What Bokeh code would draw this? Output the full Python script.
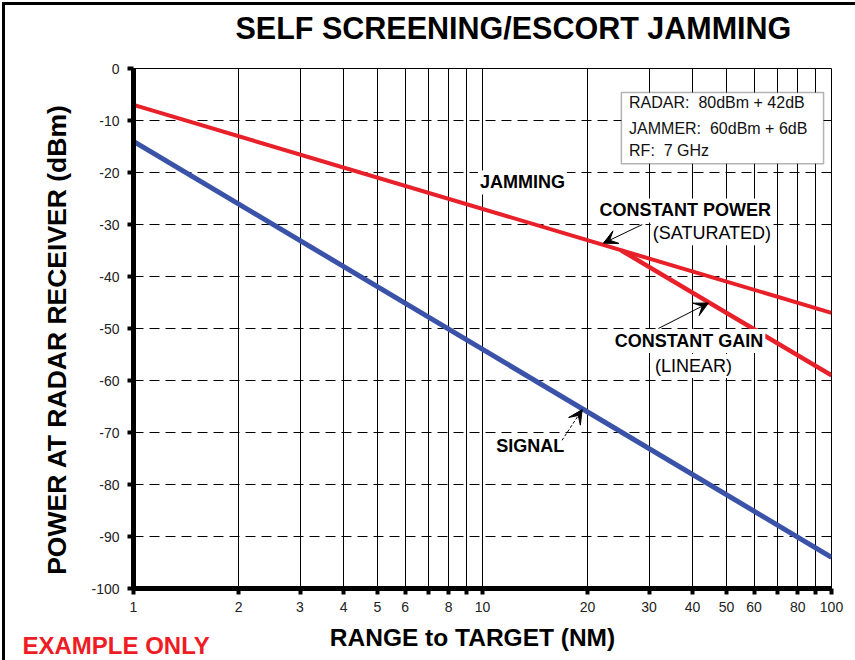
from bokeh.plotting import figure
from bokeh.layouts import column
from bokeh.models import (FixedTicker, Label, BoxAnnotation, Arrow, VeeHead,
                          BasicTickFormatter, Range1d)
from bokeh.embed import file_html
from bokeh.resources import INLINE

# Received power (dBm) against range to target (NM); each curve is a straight
# line on the log range axis, given by its end points.
jamming_range = [1, 100]
jamming_dbm = [-7, -47]

gain_range = [25, 100]
gain_dbm = [-35, -59]

signal_range = [1, 100]
signal_dbm = [-14, -94]

x_ticks = [1, 2, 3, 4, 5, 6, 7, 8, 9, 10, 20, 30, 40, 50, 60, 70, 80, 90, 100]
x_tick_labels = ["1", "2", "3", "4", "5", "6", "", "8", "", "10",
                 "20", "30", "40", "50", "60", "", "80", "", "100"]
y_ticks = [-100, -90, -80, -70, -60, -50, -40, -30, -20, -10, 0]
y_tick_labels = ["-100", "-90", "-80", "-70", "-60", "-50", "-40", "-30",
                 "-20", "-10", "0"]

NB = "\u00a0"
info_lines = [f"RADAR:{NB}{NB}80dBm{NB}+{NB}42dB",
              f"JAMMER:{NB}{NB}60dBm{NB}+{NB}6dB",
              f"RF:{NB}{NB}7{NB}GHz"]

FONT = "Liberation Sans"
RED = "#e8202a"
BLUE = "#3a53a8"
W = 850


def strip(height):
    """Axis-less band whose data units are pixels (y grows downward)."""
    f = figure(width=W, height=height, x_range=Range1d(0, W),
               y_range=Range1d(height, 0), x_axis_location=None,
               y_axis_location=None, output_backend="svg",
               toolbar_location=None, min_border=0, outline_line_color=None,
               background_fill_color="white", border_fill_color="white")
    f.xgrid.visible = False
    f.ygrid.visible = False
    f.frame_align = False
    return f


# ---- title band ----
head = strip(50)
head.add_layout(Label(x=230, y=22, text="SELF SCREENING/ESCORT JAMMING",
                      text_font=FONT, text_font_size="30.5px",
                      text_font_style="bold", text_color="black",
                      text_align="left", text_baseline="middle"))

# ---- main chart ----
p = figure(width=W, height=563, x_axis_type="log",
           x_range=(1, 100), y_range=(-100, 0),
           output_backend="svg", toolbar_location=None,
           min_border_left=128, min_border_right=24,
           min_border_top=13, min_border_bottom=30,
           background_fill_color="white", border_fill_color="white")
p.frame_align = False

p.outline_line_color = "black"
p.outline_line_width = 1

p.xaxis.ticker = FixedTicker(ticks=x_ticks, minor_ticks=[])
p.xaxis.formatter = BasicTickFormatter()
p.xaxis.major_label_overrides = {t: s for t, s in zip(x_ticks, x_tick_labels)}
p.yaxis.ticker = FixedTicker(ticks=y_ticks, minor_ticks=[])
p.yaxis.major_label_overrides = {t: s for t, s in zip(y_ticks, y_tick_labels)}

for ax in (p.xaxis[0], p.yaxis[0]):
    ax.axis_line_width = 5
    ax.axis_line_color = "black"
    ax.major_tick_line_width = 4
    ax.major_tick_line_color = "black"
    ax.major_tick_out = 6
    ax.major_tick_in = 0
    ax.minor_tick_line_color = None
    ax.major_label_text_font = FONT
    ax.major_label_text_font_size = "14px"
    ax.major_label_text_color = "#222222"
    ax.axis_label_text_font = FONT
    ax.axis_label_text_font_style = "bold"
    ax.axis_label_text_color = "black"

p.xaxis.major_label_standoff = 7
# trailing no-break spaces nudge the centred title down the axis
p.yaxis.axis_label = "POWER AT RADAR RECEIVER (dBm)" + NB * 3
p.yaxis.axis_label_text_font_size = "26.5px"
p.yaxis.major_label_standoff = 8
p.yaxis.axis_label_standoff = 16

# grid: solid verticals at every decade step, dashed horizontals every 10 dB
p.xgrid.ticker = FixedTicker(ticks=x_ticks, minor_ticks=[])
p.xgrid.grid_line_color = "black"
p.xgrid.grid_line_width = 1
p.ygrid.ticker = FixedTicker(ticks=y_ticks, minor_ticks=[])
p.ygrid.grid_line_color = "black"
p.ygrid.grid_line_width = 1
p.ygrid.grid_line_dash = "10 6"

# curves
p.line(jamming_range, jamming_dbm, line_color=RED, line_width=4)
p.line(gain_range, gain_dbm, line_color=RED, line_width=4.5)
p.line(signal_range, signal_dbm, line_color=BLUE, line_width=5)

# parameter box
p.add_layout(BoxAnnotation(left=25.0, right=94.9, top=-4.6, bottom=-18.3,
                           fill_color="white", fill_alpha=1,
                           line_color="black", line_width=1.5, level="annotation"))
for txt, yy in zip(info_lines, [-6.6, -11.5, -15.8]):
    p.add_layout(Label(x=26.3, y=yy, text=txt, text_font=FONT,
                       text_font_size="16px", text_color="#111111",
                       text_align="left", text_baseline="middle"))


def tag(x, y, text, bold=True, align="left"):
    p.add_layout(Label(x=x, y=y, text=text, text_font=FONT, text_font_size="18px",
                       text_font_style="bold" if bold else "normal",
                       text_color="black", text_align=align,
                       text_baseline="middle",
                       background_fill_color="white", background_fill_alpha=1,
                       padding=2))


tag(9.7, -21.9, "JAMMING")
tag(68.0, -27.3, "CONSTANT POWER", align="right")
tag(68.0, -31.7, "(SATURATED)", bold=False, align="right")
tag(23.6, -52.4, "CONSTANT GAIN")
tag(30.8, -57.2, "(LINEAR)", bold=False)
tag(10.8, -72.6, "SIGNAL")

# pointer arrows
arrows = [
    dict(x_start=28.7, y_start=-30.0, x_end=22.2, y_end=-33.6, dash="solid"),
    dict(x_start=31.9, y_start=-50.0, x_end=44.4, y_end=-45.1, dash="solid"),
    dict(x_start=16.9, y_start=-71.5, x_end=19.3, y_end=-65.6, dash="3 2"),
]
for a in arrows:
    p.add_layout(Arrow(end=VeeHead(size=14, fill_color="black", line_color="black",
                                   line_width=1),
                       x_start=a["x_start"], y_start=a["y_start"],
                       x_end=a["x_end"], y_end=a["y_end"],
                       line_color="black", line_width=1, line_dash=a["dash"]))

# ---- footer band: x-axis title and the red stamp ----
foot = strip(42)
foot.add_layout(Label(x=467, y=19, text="RANGE to TARGET (NM)", text_font=FONT,
                      text_font_size="24.5px", text_font_style="bold",
                      text_color="black", text_align="center",
                      text_baseline="middle"))
foot.add_layout(Label(x=17, y=27, text="EXAMPLE ONLY", text_font=FONT,
                      text_font_size="24px", text_font_style="bold",
                      text_color="#ee1c25", text_align="left",
                      text_baseline="middle"))

page = column(head, p, foot, spacing=0,
              styles={"margin-left": "2px", "margin-top": "2px",
                      "border-left": "3px solid black",
                      "border-top": "3px solid black"})

open("out.html", "w").write(file_html(page, INLINE))
